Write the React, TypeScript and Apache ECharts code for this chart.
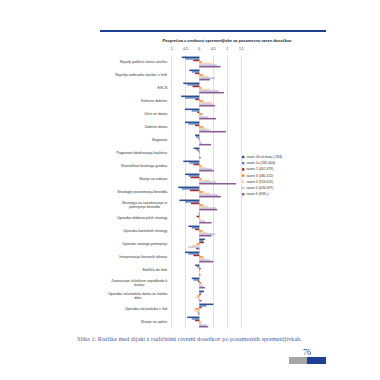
import React, { useEffect, useRef } from "react";
import * as echarts from "echarts";

const categories = [
  "Najvišji poklicni status staršev",
  "Najvišja izobrazba staršev v letih",
  "ESCS",
  "Kulturne dobrine",
  "Učni viri doma",
  "Dobrine doma",
  "Bogastvo",
  "Pogostost obiskovanja knjižnice",
  "Raznolikost bralnega gradiva",
  "Branje za zabavo",
  "Strategije povzemanja besedila",
  "Strategija za razumevanje in\npomnjenje besedila",
  "Uporaba elaboracijskih strategij",
  "Uporaba kontrolnih strategij",
  "Uporaba strategij pomnjenja",
  "Interpretacija literarnih tekstov",
  "Stališča do šole",
  "Zaznavanje učiteljeve vzpodbude k\nbranju",
  "Uporaba računalnika doma za šolsko\ndelo",
  "Uporaba računalnika v šoli",
  "Branje na spletu",
];

const seriesNames = [
  "raven 1b ali manj (-334)",
  "raven 1a (335-406)",
  "raven 2 (407-479)",
  "raven 3 (480-552)",
  "raven 4 (553-625)",
  "raven 5 (626-697)",
  "raven 6 (698+)",
];

const raven1b = [-0.63, -0.36, -0.57, -0.65, -0.51, -0.51, -0.15, -0.2, -0.57, -0.51, -0.75, -0.71, -0.02, -0.39, 0.2, -0.51, -0.15, -0.27, 0.17, 0.5, -0.43];
const raven1a = [-0.5, -0.27, -0.43, -0.51, -0.27, -0.39, -0.12, -0.1, -0.36, -0.39, -0.63, -0.51, 0.02, -0.27, 0.14, -0.39, -0.08, -0.21, 0.08, 0.26, -0.27];
const raven2 = [-0.22, -0.15, -0.24, -0.15, -0.07, -0.15, -0.03, -0.03, -0.21, -0.31, -0.33, -0.3, -0.1, -0.15, 0.17, -0.21, 0.05, -0.05, 0.05, 0.08, -0.15];
const raven3 = [0.1, 0.14, 0.08, 0.14, 0.12, 0.14, 0.03, 0.02, 0.08, 0.08, 0.14, 0.14, -0.03, 0.12, -0.1, 0.14, 0.03, 0.08, -0.07, -0.15, 0.05];
const raven4 = [0.44, 0.32, 0.38, 0.44, 0.08, 0.26, 0.05, 0.01, 0.2, 0.38, 0.38, 0.32, 0.05, 0.26, -0.27, 0.2, -0.03, 0.06, -0.15, -0.21, 0.08];
const raven5 = [0.62, 0.56, 0.68, 0.5, 0.32, 0.36, 0.1, 0.03, 0.44, 0.6, 0.68, 0.6, 0.2, 0.56, -0.39, 0.38, 0.02, 0.14, -0.05, -0.1, 0.26];
const raven6 = [0.76, 0.38, 0.88, 0.56, 0.6, 0.95, 0.42, 0.05, 0.52, 1.31, 0.77, 0.64, 0.44, 0.44, -0.12, 0.5, 0.04, 0.2, 0.08, -0.04, 0.32];

const seriesValues = [raven1b, raven1a, raven2, raven3, raven4, raven5, raven6];
const colors = ["#2B4E8C", "#5F86C2", "#A3292F", "#E8892F", "#FAD3AE", "#C9C1DE", "#8A5C93"];

const tickLabels: Record<string, string> = {
  "-1": "-1",
  "-0.5": "-0,5",
  "0": "0",
  "0.5": "0,5",
  "1": "1",
  "1.5": "1,5",
};

const titleText = "Povprečna z-vrednost spremenljivke za posamezno raven dosežkov";
const captionText = "Slika 1: Razlike med dijaki z različnimi ravnmi dosežkov po posameznih spremenljivkah.";
const pageNumber = "76";

export default function App() {
  const ref = useRef<HTMLDivElement>(null);
  useEffect(() => {
    if (!ref.current) return;
    const chart = echarts.init(ref.current, null, { renderer: "svg" });
    const font = "Liberation Sans, Arial, sans-serif";
    chart.setOption({
      animation: false,
      backgroundColor: "#ffffff",
      title: {
        text: titleText,
        left: 227,
        top: 38,
        padding: 0,
        textAlign: "center",
        textStyle: { fontSize: 4, fontWeight: "bold", color: "#222", fontFamily: font },
      },
      legend: {
        orient: "vertical",
        left: 242,
        top: 155,
        padding: 0,
        itemWidth: 2.4,
        itemHeight: 2.4,
        itemGap: 2.2,
        icon: "rect",
        data: seriesNames,
        textStyle: { fontSize: 3.4, color: "#333", fontFamily: font, lineHeight: 4, padding: [0, 0, 0, -3] },
      },
      grid: { left: 171.3, width: 70, top: 55.5, height: 273, containLabel: false },
      xAxis: {
        type: "value",
        position: "top",
        min: -1,
        max: 1.5,
        interval: 0.5,
        axisLine: { show: false },
        axisTick: { show: false },
        splitLine: { show: true, lineStyle: { color: "#BFBFBF", width: 0.5 } },
        axisLabel: {
          fontSize: 3.4,
          color: "#333",
          fontFamily: font,
          margin: 5,
          formatter: (v: number) => tickLabels[String(v)] ?? String(v),
        },
      },
      yAxis: {
        type: "category",
        inverse: true,
        data: categories,
        axisLine: { show: false },
        axisTick: { show: false },
        axisLabel: {
          interval: 0,
          fontSize: 3.6,
          color: "#333",
          fontFamily: font,
          margin: 4,
          lineHeight: 4.6,
          formatter: (v: string) =>
            v.indexOf("\n") >= 0
              ? v.split("\n").map((l) => `{c|${l}}`).join("\n")
              : v,
          rich: { c: { align: "center", fontSize: 3.6, lineHeight: 4.6, fontFamily: font, color: "#333" } },
        },
      },
      series: seriesNames.map((name, i) => ({
        name,
        type: "bar",
        data: seriesValues[i],
        barGap: "0%",
        barCategoryGap: "16%",
        itemStyle: { color: colors[i] },
      })),
      graphic: [
        { type: "rect", shape: { x: 100, y: 30, width: 226, height: 2 }, style: { fill: "#1F3F8F" } },
        {
          type: "text",
          x: 77,
          y: 338,
          style: {
            text: captionText,
            font: "6.25px 'Liberation Serif', 'DejaVu Serif', serif",
            fill: "#4A5DA5",
            verticalAlign: "middle",
          },
        },
        {
          type: "text",
          x: 303,
          y: 352,
          style: {
            text: pageNumber,
            font: "8px 'Liberation Serif', serif",
            fill: "#2B3F8A",
            verticalAlign: "middle",
          },
        },
        { type: "rect", shape: { x: 289, y: 357, width: 18, height: 7 }, style: { fill: "#A6A6A6" } },
        { type: "rect", shape: { x: 307, y: 357, width: 19, height: 7 }, style: { fill: "#1F3F93" } },
      ],
    });
    return () => chart.dispose();
  }, []);
  return (
    <div
      ref={ref}
      style={{ position: "absolute", left: 0, top: 0, width: 380, height: 380 }}
    />
  );
}
